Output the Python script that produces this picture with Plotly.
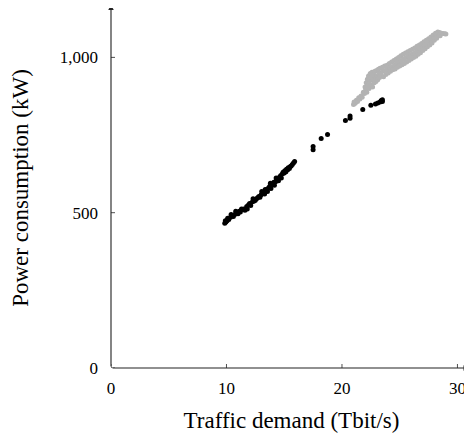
import plotly.graph_objects as go

# ---- data ----
black_x = [9.85, 9.9, 9.95, 10.05, 10.1, 10.2, 10.35, 10.4, 10.5, 10.6, 10.75, 10.8, 10.9, 11.0, 11.1,
           11.2, 11.3, 11.35, 11.5, 11.6, 11.75, 11.8, 11.9, 12.0, 12.1, 12.25, 12.3, 12.4, 12.5, 12.6,
           12.7, 12.8, 12.9, 13.0, 13.05, 13.1, 13.2, 13.3, 13.35, 13.4, 13.5, 13.55, 13.65, 13.75,
           13.8, 13.85, 13.9, 14.0, 14.1, 14.15, 14.25, 14.3, 14.35, 14.45, 14.5, 14.6, 14.7, 14.75,
           14.85, 14.9, 15.0, 15.05, 15.15, 15.2, 15.3, 15.35, 15.45, 15.5, 15.6, 15.7, 15.8, 15.9,
           17.5, 17.5, 18.2, 18.75, 20.3, 20.7, 20.7, 21.8, 22.5, 22.9, 23.1, 23.3, 23.5, 23.5, 23.4]
black_y = [466, 474, 470, 474, 482, 478, 485, 494, 490, 488, 495, 505, 500, 497, 505,
           502, 512, 510, 512, 508, 520, 512, 525, 530, 523, 535, 545, 538, 540, 545,
           548, 552, 550, 558, 568, 562, 565, 560, 575, 570, 575, 568, 580, 585,
           595, 578, 590, 592, 598, 588, 600, 612, 605, 610, 603, 615, 620, 612,
           625, 630, 628, 635, 632, 640, 638, 645, 642, 648, 650, 655, 660, 665,
           703, 713, 739, 752, 797, 804, 811, 832, 846, 850, 853, 856, 858, 864, 861]

grey_x = [21.0, 21.05, 21.15, 21.25, 21.35, 21.45, 21.55, 21.65, 21.75, 21.85, 21.95, 22.0,
          22.05, 22.1, 22.15, 22.2, 22.25, 22.3, 22.35, 22.4, 22.45, 22.5, 22.55, 22.6, 22.65,
          22.7, 22.75, 22.8, 22.85, 22.9, 22.95, 23.0, 23.05, 23.1, 23.15, 23.2, 23.25, 23.3,
          23.35, 23.4, 23.5, 23.55, 23.6, 23.7, 23.75, 23.8, 23.9, 23.95, 24.0, 24.1, 24.15,
          24.2, 24.3, 24.35, 24.4, 24.5, 24.55, 24.6, 24.7, 24.75, 24.8, 24.9, 24.95, 25.0,
          25.1, 25.15, 25.2, 25.3, 25.35, 25.4, 25.5, 25.55, 25.6, 25.7, 25.75, 25.8, 25.9,
          25.95, 26.0, 26.1, 26.15, 26.2, 26.3, 26.35, 26.4, 26.5, 26.55, 26.6, 26.7, 26.75,
          26.8, 26.9, 26.95, 27.0, 27.1, 27.15, 27.2, 27.3, 27.35, 27.4, 27.5, 27.55, 27.6,
          27.7, 27.75, 27.8, 27.9, 27.95, 28.0, 28.1, 28.15, 28.2, 28.3, 28.35, 28.45, 28.5,
          28.6, 28.75, 28.9, 29.0]
grey_y = [848, 856, 852, 862, 858, 870, 866, 876, 872, 888, 884, 905,
          895, 918, 888, 930, 910, 940, 900, 925, 948, 912, 935, 952, 905,
          928, 945, 918, 955, 935, 922, 958, 940, 928, 962, 948, 935, 965,
          950, 940, 968, 955, 938, 972, 958, 945, 975, 962, 950, 980, 966,
          955, 985, 970, 960, 990, 975, 963, 995, 982, 968, 1000, 986, 972,
          1005, 990, 976, 1010, 995, 980, 1014, 1000, 985, 1018, 1004, 990, 1022,
          1008, 995, 1026, 1012, 1000, 1030, 1016, 1004, 1036, 1022, 1010, 1040, 1028,
          1015, 1045, 1032, 1022, 1050, 1038, 1028, 1055, 1044, 1034, 1060, 1048, 1040,
          1066, 1054, 1046, 1072, 1060, 1055, 1078, 1066, 1062, 1082, 1072, 1080, 1070,
          1078, 1077, 1076, 1075]

x_ticks = [0, 10, 20, 30]
y_ticks = [0, 500, 1000]
y_tick_text = ["0", "500", "1,000"]

X_MAX = 31.26     # right edge of plotting area
X_ARROW = 31.0    # tip of x-axis arrow
Y_MAX = 1159      # top edge of plotting area
Y_ARROW = 1170    # tip of y-axis arrow

FONT = "Liberation Serif"
AXIS_COLOR = "#222222"

fig = go.Figure()
fig.add_trace(go.Scatter(x=grey_x, y=grey_y, mode="markers",
                         marker=dict(color="#b3b3b3", size=5, line=dict(width=0)),
                         showlegend=False, hoverinfo="skip", cliponaxis=False))
fig.add_trace(go.Scatter(x=black_x, y=black_y, mode="markers",
                         marker=dict(color="black", size=5, line=dict(width=0)),
                         showlegend=False, hoverinfo="skip", cliponaxis=False))

shapes = []
for t in x_ticks:
    shapes.append(dict(type="line", xref="x", yref="y", x0=t, x1=t,
                       ysizemode="pixel", yanchor=0, y0=-4, y1=4,
                       line=dict(color=AXIS_COLOR, width=0.8)))
for t in y_ticks:
    shapes.append(dict(type="line", xref="x", yref="y", y0=t, y1=t,
                       xsizemode="pixel", xanchor=0, x0=-4, x1=4,
                       line=dict(color=AXIS_COLOR, width=0.8)))

annotations = [
    dict(x=X_ARROW, y=0, ax=0, ay=0, xref="x", yref="y", axref="x", ayref="y",
         showarrow=True, arrowhead=2, arrowsize=1, arrowwidth=1.1, arrowcolor=AXIS_COLOR, text=""),
    dict(x=0, y=Y_ARROW, ax=0, ay=0, xref="x", yref="y", axref="x", ayref="y",
         showarrow=True, arrowhead=2, arrowsize=1, arrowwidth=1.1, arrowcolor=AXIS_COLOR, text=""),
]

# page has an 8px body margin: figure is shrunk/shifted to compensate
fig.update_layout(
    width=464, height=430,
    margin=dict(l=103, r=0, t=0, b=70, pad=0),
    paper_bgcolor="white", plot_bgcolor="white",
    font=dict(family=FONT, size=17, color="black"),
    shapes=shapes, annotations=annotations,
    xaxis=dict(range=[0, X_MAX], showgrid=False, zeroline=False, showline=False,
               automargin=False,
               tickvals=x_ticks, ticks="", ticklabelstandoff=8,
               tickfont=dict(family=FONT, size=17),
               title=dict(text="Traffic demand (Tbit/s)", font=dict(family=FONT, size=23), standoff=14)),
    yaxis=dict(range=[0, Y_MAX], showgrid=False, zeroline=False, showline=False,
               automargin=False,
               tickvals=y_ticks, ticktext=y_tick_text, ticks="", ticklabelstandoff=12,
               tickfont=dict(family=FONT, size=17),
               title=dict(text="Power consumption (kW)", font=dict(family=FONT, size=23), standoff=42)),
)

fig.write_html("out.html")
